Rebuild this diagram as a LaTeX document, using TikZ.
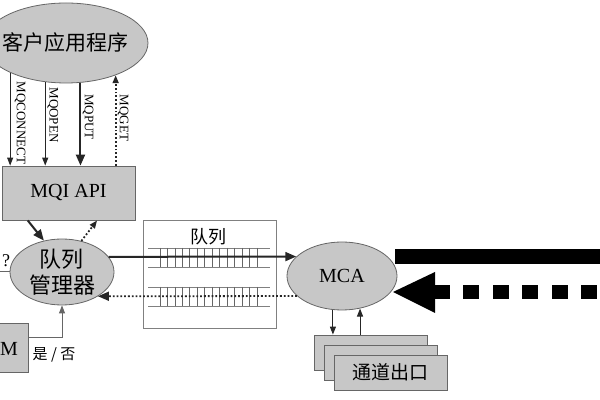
\documentclass[tikz,border=0pt]{standalone}
\usepackage{fontspec}
\setmainfont{Liberation Serif}
\newfontfamily\cjk{Noto Sans CJK SC}
\usetikzlibrary{arrows.meta,calc,shapes.geometric}
\definecolor{boxgray}{gray}{0.78}
\definecolor{edgegray}{gray}{0.4}
\definecolor{inkgray}{gray}{0.15}
\def\tickgap{7.46}
\def\barh{19}

\begin{document}
\begin{tikzpicture}[x=0.5pt,y=-0.5pt,
    blob/.style={ellipse, draw=edgegray, fill=boxgray, inner sep=0pt},
    box/.style={rectangle, draw=edgegray, fill=boxgray, inner sep=0pt},
    arrowtip/.style={-{Triangle[length=4pt,width=3pt]}},
    bigtip/.style={-{Triangle[length=5.5pt,width=4.5pt]}},
    call/.style={font=\fontsize{6.5}{7}\selectfont, rotate=-90, inner sep=0pt},
    dots/.style={densely dotted, line width=0.9pt}
  ]
    \useasboundingbox (0,0) rectangle (600,400);
    \clip (0,0) rectangle (600,400);

    % client application and the API
    \node[blob, minimum width=82pt, minimum height=40pt,
      label={[font=\cjk\fontsize{10.5}{12}\selectfont]center:客户应用程序}] (client) at (66,43) {};
    \node[box, minimum width=66.5pt, minimum height=27pt,
      font=\fontsize{10}{12}\selectfont] (mqi) at (68.5,193) {MQI API};

    \draw[arrowtip, inkgray, line width=0.5pt] (client.208) -- (client.208 |- mqi.north);
    \draw[arrowtip, inkgray, line width=0.5pt] (client.242) -- (client.242 |- mqi.north);
    \draw[bigtip, inkgray, line width=1pt] (client.290) -- (client.290 |- mqi.north);
    \draw[arrowtip, inkgray, dots] (client.327 |- mqi.north) -- (client.327);

    \node[call] (lconnect) at (20,123) {MQCONNECT};
    \node[call] (lopen) at (53,115) {MQOPEN};
    \node[call] (lput) at (88,117) {MQPUT};
    \node[call] (lget) at (123,118) {MQGET};

    % queue manager
    \node[blob, minimum width=52pt, minimum height=33pt,
      label={[align=center, font=\cjk\fontsize{11}{13}\selectfont]center:{队列\\管理器}}] (qm) at (62,272) {};
    \draw[bigtip, inkgray, line width=1pt] ($(mqi.south west)!0.195!(mqi.south east)$) -- (qm.120);
    \draw[arrowtip, inkgray, dots] (qm.58) -- ($(mqi.south west)!0.714!(mqi.south east)$);

    \node[font=\fontsize{9}{10}\selectfont] (ask) at (6,261) {?};
    \coordinate (qin) at (0,272);
    \draw[edgegray, line width=0.5pt] (qin) -- (qm.west);

    \node[box, minimum width=29pt, minimum height=24.5pt] (mbox) at (-1,347.5) {};
    \node[font=\fontsize{10}{12}\selectfont] (mtext) at (9,349) {M};
    \draw[arrowtip, edgegray, line width=0.5pt] ($(mbox.north east)!0.306!(mbox.south east)$) -| (qm.south);
    \node[font=\cjk\fontsize{7.5}{9}\selectfont] (yesno) at (54,355) {是~/~否};

    % queues
    \node[draw=gray, fill=white, minimum width=66.5pt, minimum height=54pt, inner sep=0pt] (queue) at (209.5,274) {};
    \node[font=\cjk\fontsize{9}{10}\selectfont] (qlabel) at (208,237) {队列};
    \foreach \y in {248,287} {
      \draw[gray] (148,\y) -- (270,\y);
      \draw[gray] (148,\y+\barh) -- (270,\y+\barh);
      \foreach \i in {0,...,13}
        \draw[edgegray] (160+\i*\tickgap,\y) -- ++(0,\barh);
    }

    % channel agent
    \node[blob, minimum width=55pt, minimum height=34pt,
      font=\fontsize{10}{12}\selectfont] (mca) at (342,276) {MCA};
    \draw[bigtip, inkgray, line width=1pt] (qm.18) -- (mca.157);
    \draw[bigtip, inkgray, dots] (mca.204) -- (qm.326);

    \fill[black] (395,249) rectangle (600,264);
    \fill[black] (393,292) -- (435,272) -- (435,313) -- cycle;
    \fill[black] (435,285) rectangle (450,299);
    \foreach \i in {0,...,4}
      \fill[black] (463+\i*29.5,285) rectangle ++(16,14);

    % channel exits
    \node[box, minimum width=56.5pt, minimum height=17.5pt] (ch1) at (370.5,352.5) {};
    \node[box, minimum width=56.5pt, minimum height=17.5pt] (ch2) at (380.5,362.5) {};
    \node[box, minimum width=56.5pt, minimum height=17.5pt,
      font=\cjk\fontsize{9.5}{11}\selectfont] (ch3) at (390.5,372.5) {通道出口};
    \draw[arrowtip, inkgray, line width=0.5pt] (mca.255) -- (mca.255 |- ch1.north);
    \draw[arrowtip, inkgray, line width=0.5pt] (mca.299 |- ch1.north) -- (mca.299);
  \end{tikzpicture}
\end{document}
